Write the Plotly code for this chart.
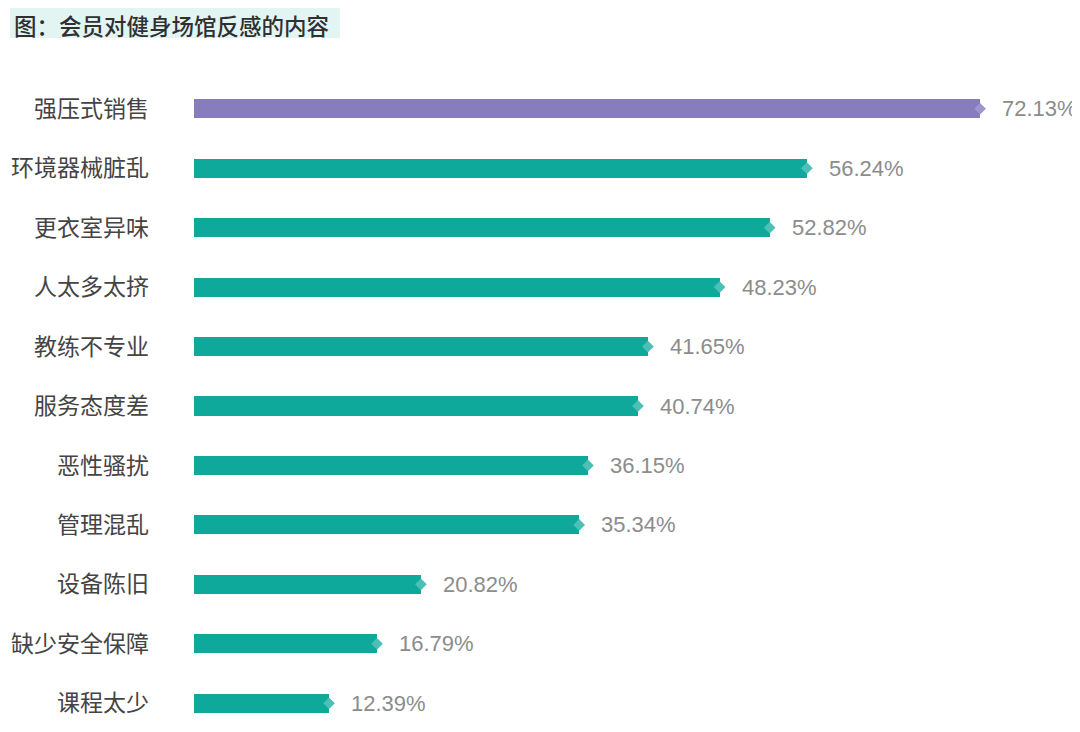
import plotly.graph_objects as go

categories = ["强压式销售", "环境器械脏乱", "更衣室异味", "人太多太挤", "教练不专业", "服务态度差",
              "恶性骚扰", "管理混乱", "设备陈旧", "缺少安全保障", "课程太少"]
values = [72.13, 56.24, 52.82, 48.23, 41.65, 40.74, 36.15, 35.34, 20.82, 16.79, 12.39]
labels = [f"{v:.2f}%" for v in values]
title_text = "图：会员对健身场馆反感的内容"

PURPLE = "#877dbd"
TEAL = "#0fa99c"
bar_colors = [PURPLE] + [TEAL] * (len(values) - 1)
tip_colors = ["#9d95cc"] + ["#4cc0b5"] * (len(values) - 1)

FONT = "Noto Sans CJK SC"

# layout geometry (page shows figure offset by 8px body margin)
L, T, B = 186, 71, 7
PLOT_W = 1080 - L
PLOT_H = 732 - T - B


def px_x(p):
    return (p - L) / PLOT_W


def px_y(p):
    return 1 + (T - p) / PLOT_H


fig = go.Figure()
fig.add_trace(go.Bar(
    x=values, y=categories, orientation="h",
    marker=dict(color=bar_colors, line=dict(width=0)),
    width=0.32, hoverinfo="skip",
))
fig.add_trace(go.Scatter(
    x=values, y=categories, mode="markers",
    marker=dict(symbol="diamond", size=9, color=tip_colors, line=dict(width=0)),
    hoverinfo="skip", cliponaxis=False,
))
for v, c, t in zip(values, categories, labels):
    fig.add_annotation(x=v, y=c, xref="x", yref="y", text=t, showarrow=False,
                       xanchor="left", yanchor="middle", xshift=20,
                       font=dict(family="Liberation Sans", size=22, color="#8c8c8c"))

# title highlight band
fig.add_shape(type="rect", xref="paper", yref="paper", layer="below",
              x0=px_x(2), x1=px_x(332), y0=px_y(0), y1=px_y(30),
              fillcolor="#e2f5f3", line=dict(width=0))
fig.add_annotation(xref="paper", yref="paper", x=px_x(4), y=px_y(17),
                   text=title_text, showarrow=False,
                   font=dict(family=FONT, size=22.5, color="#303030", weight=500),
                   xanchor="left", yanchor="middle")

fig.update_layout(
    template="none",
    width=1080, height=732,
    margin=dict(l=L, r=0, t=T, b=B, autoexpand=False),
    paper_bgcolor="white", plot_bgcolor="white",
    showlegend=False,
    xaxis=dict(range=[0, PLOT_W / 10.898], visible=False, fixedrange=True, automargin=False),
    yaxis=dict(range=[len(categories) - 0.5, -0.5], showgrid=False, zeroline=False, showline=False,
               automargin=False, ticks="", ticklabelstandoff=44,
               tickfont=dict(family=FONT, size=23, color="#444444")),
    bargap=0,
)
fig.write_html("out.html")
